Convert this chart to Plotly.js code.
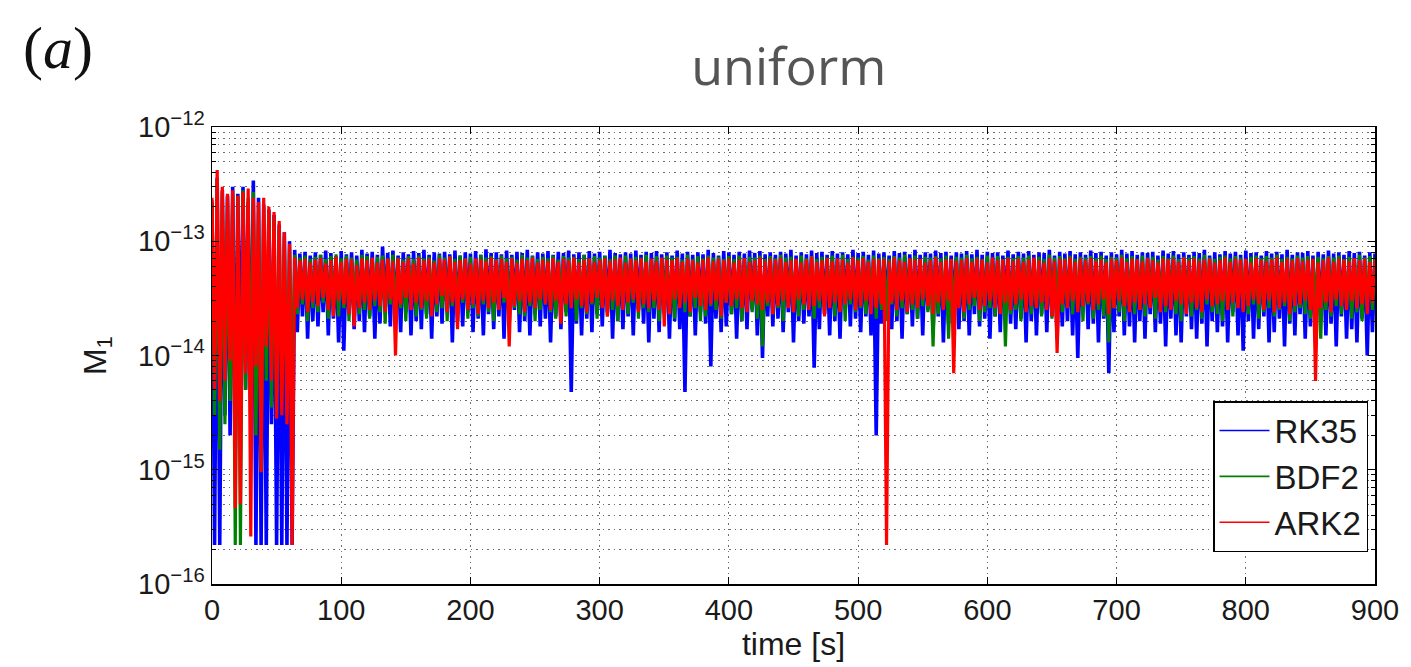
<!DOCTYPE html>
<html>
<head>
<meta charset="utf-8">
<script src="https://cdn.plot.ly/plotly-3.0.1.min.js"></script>
<style>
  html, body { margin: 0; padding: 0; background: #fff; }
  #chart { width: 1411px; height: 667px; }
</style>
</head>
<body>
<div id="chart"></div>
<script>
// Sampling interval of the stored series [s]
const timeStep = 2;
// Series values are stored in units of 1e-14
const UNIT = 1e-14;

const seriesNames = ['RK35', 'BDF2', 'ARK2'];
const seriesColors = ['#0000ff', '#008000', '#ff0000'];

// M_1 for the RK35 scheme
const rk35 = [
  22, 0.022, 36, 0.022, 28, 0.3, 25, 0.2, 30, 0.15,
  26, 0.4, 30, 0.5, 22, 0.3, 34, 0.022, 24, 0.022,
  21, 0.022, 19, 0.25, 17, 0.022, 14, 0.022, 12, 0.022,
  10, 0.022, 8.4, 1.6, 7.8, 2.2, 8.1, 1.4, 7.5, 2.0,
  8.0, 1.8, 7.6, 2.4, 8.3, 1.5, 7.9, 2.1, 7.4, 1.3,
  8.2, 1.1, 7.7, 2.3, 8.0, 1.7, 7.5, 2.0, 8.4, 1.6,
  7.8, 2.2, 8.1, 1.4, 7.6, 1.9, 9.0, 2.5, 7.9, 1.8,
  8.3, 2.1, 7.5, 1.6, 8.0, 2.4, 7.7, 1.5, 8.2, 2.0,
  7.9, 1.7, 8.4, 2.3, 7.6, 1.4, 8.0, 2.2, 7.8, 1.9,
  8.1, 2.5, 7.7, 1.3, 8.3, 2.0, 7.5, 1.8, 8.0, 2.4,
  7.8, 1.6, 8.2, 2.1, 7.6, 1.5, 8.5, 2.3, 7.9, 1.7,
  8.0, 2.2, 7.7, 1.4, 8.3, 1.9, 7.6, 2.5, 8.1, 1.6,
  7.9, 2.0, 8.4, 1.5, 7.5, 2.3, 8.0, 1.8, 7.8, 2.1,
  8.2, 1.3, 7.6, 2.2, 8.1, 1.7, 7.9, 2.4, 8.3, 0.48,
  7.7, 1.9, 8.0, 1.5, 7.6, 2.1, 8.2, 1.6, 7.8, 2.3,
  8.1, 1.8, 7.5, 2.4, 8.4, 1.4, 7.9, 2.0, 7.7, 1.7,
  8.0, 2.2, 7.8, 1.5, 8.3, 2.5, 7.6, 1.9, 8.1, 1.3,
  7.9, 2.1, 8.2, 1.6, 7.7, 2.3, 8.0, 1.4, 7.5, 2.0,
  8.3, 1.7, 7.8, 0.48, 8.1, 2.2, 7.6, 1.5, 8.0, 2.4,
  7.7, 1.9, 8.4, 0.8, 7.9, 2.1, 7.5, 1.6, 8.2, 1.8,
  8.0, 2.3, 7.6, 1.4, 8.1, 2.0, 7.8, 1.7, 8.3, 2.5,
  7.9, 1.5, 8.2, 0.95, 7.7, 2.2, 8.0, 1.8, 7.6, 2.1,
  8.1, 1.6, 7.8, 2.4, 8.4, 1.3, 7.5, 2.0, 8.0, 1.9,
  7.7, 2.2, 8.3, 0.78, 7.9, 1.7, 8.1, 2.3, 7.6, 1.5,
  8.2, 2.0, 7.8, 1.4, 8.0, 2.5, 7.7, 1.8, 8.4, 2.1,
  7.9, 1.6, 8.1, 2.2, 7.6, 1.5, 8.3, 0.2, 7.8, 1.9,
  8.0, 2.4, 7.5, 1.7, 8.2, 2.0, 7.9, 1.4, 8.1, 2.3,
  7.7, 1.8, 8.4, 2.1, 7.6, 1.5, 8.0, 2.5, 7.8, 1.6,
  8.3, 2.2, 7.9, 1.3, 8.1, 1.9, 7.5, 2.4, 8.0, 1.7,
  7.8, 2.0, 8.2, 1.5, 7.7, 2.3, 8.4, 1.8, 7.6, 2.1,
  8.1, 1.4, 7.9, 2.2, 8.0, 1.6, 7.5, 2.5, 8.3, 1.9,
  7.7, 1.7, 8.1, 2.1, 7.8, 1.3, 8.2, 2.0, 7.6, 1.5,
  8.0, 2.3, 7.9, 1.6, 8.4, 2.2, 7.5, 1.4, 8.1, 1.8,
  7.8, 2.0, 8.2, 1.5, 7.7, 0.95, 8.0, 2.4, 7.6, 1.7,
  8.3, 1.9, 7.9, 1.3, 8.1, 2.1, 7.5, 0.7, 8.0, 1.6,
  7.7, 2.2, 8.4, 1.5, 7.8, 1.8, 8.2, 1.3, 7.6, 2.0,
  8.0, 1.4, 7.9, 2.3, 8.1, 1.6, 7.5, 1.9, 8.3, 1.2,
  7.8, 2.1, 8.2, 1.5, 7.7, 1.3, 8.0, 2.2, 7.6, 1.7,
  8.1, 1.4, 7.9, 1.9, 8.4, 1.2, 7.5, 2.0, 8.0, 1.6,
  7.7, 1.8, 8.2, 1.3, 7.8, 2.4, 8.1, 1.5, 7.6, 1.1,
  8.3, 2.0, 7.9, 1.4, 8.0, 1.7, 7.5, 2.2, 8.2, 1.3,
  7.8, 1.6, 8.1, 2.1, 7.7, 1.2, 8.4, 1.9, 7.6, 1.5,
  8.0, 2.3, 7.9, 1.4, 8.2, 1.8, 7.5, 1.3, 8.1, 2.0,
  7.7, 1.5, 8.3, 1.9, 7.8, 1.2, 8.0, 2.2, 7.6, 1.4,
  8.2, 1.7, 7.9, 1.3, 8.1, 2.1, 7.5, 1.0, 8.0, 1.6,
  7.8
];

// M_1 for the BDF2 scheme
const bdf2 = [
  23, 0.3, 35, 0.15, 27, 0.25, 24, 0.4, 26, 0.022,
  25, 0.022, 28, 0.5, 24, 0.3, 27, 0.2, 22, 0.1,
  20, 0.6, 18, 0.35, 16, 0.3, 13, 0.4, 11, 0.3,
  9.0, 0.5, 7.6, 2.3, 7.2, 2.8, 7.5, 2.0, 7.0, 2.6,
  7.3, 2.4, 7.6, 2.9, 7.0, 2.1, 7.4, 2.7, 7.7, 2.2,
  7.1, 2.6, 7.5, 2.0, 7.2, 2.8, 6.9, 2.3, 7.6, 2.5,
  7.4, 2.1, 7.0, 2.7, 7.3, 2.4, 7.5, 1.9, 7.1, 2.8,
  7.6, 2.3, 7.2, 2.6, 6.9, 2.0, 7.4, 2.9, 7.0, 2.2,
  7.5, 2.5, 7.1, 2.1, 7.3, 2.8, 6.8, 2.4, 7.6, 2.6,
  7.2, 2.0, 7.4, 2.7, 7.0, 2.3, 7.5, 2.9, 7.1, 2.1,
  7.3, 2.6, 6.9, 2.2, 7.6, 2.8, 7.2, 2.4, 7.4, 2.0,
  7.0, 2.5, 7.5, 2.9, 7.1, 2.1, 7.3, 2.6, 6.9, 2.3,
  7.6, 2.2, 7.2, 2.7, 7.4, 2.0, 7.0, 2.5, 7.3, 2.8,
  7.1, 2.4, 7.5, 2.1, 6.9, 2.6, 7.4, 2.2, 7.2, 2.9,
  7.3, 2.0, 7.0, 2.6, 7.6, 2.3, 7.1, 2.8, 7.4, 2.1,
  7.2, 2.7, 7.4, 2.2, 7.0, 2.5, 7.5, 2.0, 6.9, 2.8,
  7.5, 2.3, 7.1, 2.9, 7.3, 2.1, 7.2, 2.6, 7.6, 2.4,
  7.0, 2.6, 7.4, 2.0, 7.1, 2.7, 7.5, 2.3, 7.2, 2.1,
  7.3, 2.8, 6.9, 2.4, 7.6, 2.2, 7.0, 2.6, 7.4, 2.0,
  7.1, 2.2, 7.5, 2.7, 7.2, 2.5, 7.3, 2.1, 7.0, 2.9,
  7.4, 2.3, 7.0, 2.6, 7.5, 2.0, 7.1, 2.8, 7.3, 2.4,
  7.2, 2.1, 7.5, 1.2, 7.0, 2.7, 7.4, 2.3, 7.1, 2.6,
  7.6, 2.0, 7.2, 2.8, 7.3, 2.4, 6.9, 2.2, 7.5, 2.5,
  7.1, 2.7, 7.4, 2.1, 7.0, 2.6, 7.3, 2.3, 7.2, 2.9,
  7.5, 2.2, 7.1, 2.5, 7.6, 2.0, 7.0, 2.8, 7.3, 2.4,
  7.2, 2.6, 7.4, 2.3, 6.9, 2.7, 7.5, 2.1, 7.1, 2.5,
  7.3, 2.0, 7.0, 2.8, 7.4, 2.2, 7.2, 2.6, 7.6, 2.3,
  7.1, 2.5, 7.5, 2.1, 7.0, 2.7, 7.3, 2.4, 7.2, 1.2,
  7.4, 2.3, 7.1, 2.6, 7.5, 1.4, 7.0, 2.2, 7.3, 2.8,
  7.2, 2.1, 7.6, 2.5, 7.1, 2.7, 7.3, 2.0, 7.0, 2.4,
  7.5, 2.6, 7.2, 2.2, 7.4, 2.8, 7.0, 1.2, 7.3, 2.3,
  7.1, 2.5, 7.4, 2.0, 7.2, 2.7, 7.5, 2.3, 6.9, 2.6,
  7.3, 2.2, 7.0, 2.8, 7.6, 2.1, 7.2, 2.5, 7.4, 2.4,
  7.1, 2.7, 7.5, 2.3, 7.0, 2.6, 7.3, 2.0, 7.2, 2.8,
  7.4, 2.1, 7.1, 2.5, 7.5, 2.2, 7.0, 1.3, 7.3, 2.6,
  7.2, 2.4, 7.6, 2.0, 7.1, 2.7, 7.4, 2.3, 7.0, 2.5,
  7.5, 2.2, 7.2, 2.8, 7.3, 2.1, 6.9, 2.6, 7.4, 2.4,
  7.1, 2.6, 7.5, 2.3, 7.0, 2.0, 7.3, 2.7, 7.2, 2.2,
  7.4, 2.5, 7.1, 2.1, 7.6, 2.8, 7.2, 2.4, 7.0, 2.3,
  7.3, 2.0, 7.5, 2.6, 7.1, 2.2, 7.4, 2.7, 7.2, 2.5,
  7.0, 2.3, 7.3, 2.8, 7.5, 2.1, 7.1, 2.4, 7.4, 2.6,
  7.2, 2.2, 7.6, 2.5, 7.0, 2.7, 7.3, 2.0, 7.1, 2.4,
  7.5, 2.6, 7.2, 2.3, 7.4, 2.1, 7.0, 2.8, 7.3, 1.4,
  7.1, 2.5, 7.4, 2.2, 7.2, 2.7, 7.5, 2.3, 7.0, 2.6,
  7.3, 2.1, 7.1, 2.4, 7.6, 2.0, 7.2, 2.8, 7.4, 2.5,
  7.2
];

// M_1 for the ARK2 scheme
const ark2 = [
  24, 0.5, 42, 0.4, 30, 0.6, 26, 0.9, 28, 0.046,
  25, 0.05, 27, 0.7, 29, 0.026, 24, 0.8, 22, 0.095,
  24, 1.2, 20, 0.6, 18, 0.28, 15, 0.3, 12, 0.25,
  9.5, 0.022, 7.2, 2.6, 6.8, 3.1, 7.0, 2.4, 6.5, 2.9,
  6.9, 2.7, 7.1, 3.2, 6.4, 2.5, 6.8, 2.2, 7.3, 3.0,
  6.6, 2.8, 7.0, 2.3, 6.9, 1.8, 6.2, 2.6, 7.1, 2.9,
  6.8, 2.5, 7.2, 3.0, 6.5, 2.7, 6.9, 2.4, 7.0, 3.1,
  6.7, 1.0, 7.1, 2.8, 6.6, 3.2, 7.0, 2.5, 6.4, 2.9,
  7.2, 2.6, 6.8, 3.0, 7.0, 2.2, 6.5, 2.8, 7.1, 3.3,
  6.9, 2.4, 7.3, 2.9, 6.6, 1.7, 6.8, 3.1, 7.0, 2.5,
  6.4, 2.8, 7.1, 2.3, 6.9, 3.0, 6.7, 2.6, 7.2, 2.9,
  6.8, 2.5, 7.0, 3.2, 6.6, 1.2, 7.1, 2.7, 6.5, 3.0,
  7.0, 2.4, 6.8, 2.9, 7.2, 2.6, 6.5, 3.1, 6.9, 2.8,
  6.7, 2.5, 7.1, 3.0, 6.6, 1.9, 7.0, 2.8, 6.8, 2.6,
  7.2, 3.1, 6.5, 2.7, 6.9, 2.4, 7.0, 2.9, 6.6, 3.2,
  6.8, 2.6, 7.1, 2.2, 6.7, 3.0, 6.9, 2.7, 7.2, 2.5,
  6.5, 2.9, 7.0, 3.1, 6.8, 2.4, 7.1, 2.8, 6.6, 2.6,
  7.0, 3.0, 6.7, 2.5, 7.2, 1.8, 6.9, 2.3, 6.8, 3.1,
  7.1, 2.6, 6.6, 2.9, 7.0, 2.4, 6.8, 3.2, 6.5, 2.7,
  6.9, 2.5, 7.2, 2.8, 6.7, 3.0, 7.0, 2.2, 6.8, 2.9,
  7.0, 2.7, 6.5, 3.1, 6.9, 2.6, 7.1, 2.4, 6.6, 3.0,
  6.8, 2.8, 7.2, 2.5, 6.7, 2.9, 7.0, 2.3, 6.9, 2.7,
  7.1, 3.0, 6.6, 2.6, 6.8, 2.4, 7.0, 3.1, 6.5, 2.8,
  6.9, 2.5, 7.3, 2.7, 6.6, 3.0, 6.8, 2.2, 7.1, 2.6,
  6.7, 2.9, 7.0, 2.4, 6.9, 2.8, 6.5, 3.1, 7.2, 2.5,
  6.8, 2.7, 7.1, 3.0, 6.6, 2.3, 7.0, 2.6, 6.9, 2.8,
  7.0, 0.022, 6.7, 2.9, 7.2, 2.5, 6.8, 3.0, 6.6, 2.4,
  7.1, 2.8, 6.9, 2.6, 7.0, 3.1, 6.5, 2.7, 6.8, 2.3,
  7.2, 2.9, 6.6, 2.5, 6.9, 3.0, 7.0, 0.7, 6.7, 2.6,
  6.8, 2.4, 7.1, 2.8, 6.6, 3.2, 7.0, 2.5, 6.9, 2.7,
  6.5, 3.0, 7.2, 2.6, 6.8, 2.3, 6.9, 2.9, 7.1, 2.5,
  6.7, 2.8, 7.0, 3.1, 6.6, 2.4, 6.9, 2.7, 7.2, 2.6,
  6.8, 2.9, 6.5, 2.5, 7.1, 2.2, 6.7, 1.05, 7.0, 2.8,
  6.9, 2.6, 7.2, 3.0, 6.6, 2.4, 7.0, 2.7, 6.8, 2.9,
  7.1, 2.5, 6.7, 2.8, 6.9, 3.1, 6.5, 2.3, 7.0, 2.6,
  6.8, 3.0, 7.2, 2.7, 6.6, 2.4, 7.0, 2.9, 6.9, 2.5,
  6.7, 2.8, 7.1, 2.6, 6.8, 3.2, 6.5, 2.4, 7.0, 2.7,
  6.9, 2.5, 7.0, 3.0, 6.6, 2.8, 7.2, 2.3, 6.8, 2.9,
  7.1, 2.6, 6.7, 2.4, 6.9, 3.1, 7.0, 2.7, 6.5, 2.8,
  6.8, 3.0, 7.2, 2.5, 6.6, 2.9, 7.0, 2.6, 6.9, 2.4,
  7.0, 2.7, 6.5, 3.1, 7.1, 2.8, 6.8, 2.5, 6.7, 3.0,
  6.9, 2.4, 7.2, 2.6, 6.6, 2.9, 7.0, 2.3, 6.8, 2.7,
  7.1, 2.8, 6.7, 3.0, 6.9, 2.5, 7.0, 0.6, 6.5, 2.6,
  6.8, 2.9, 7.2, 2.4, 6.6, 3.1, 7.0, 2.7, 6.9, 2.5,
  6.7, 3.0, 7.1, 2.6, 6.8, 2.8, 7.0, 2.3, 6.6, 2.9,
  6.9
];

// Axis ticks
const xTickVals = [0, 100, 200, 300, 400, 500, 600, 700, 800, 900];
const yDecades = [-16, -15, -14, -13, -12];
const yTickText = ['10<sup>\u221216</sup>', '10<sup>\u221215</sup>', '10<sup>\u221214</sup>',
                   '10<sup>\u221213</sup>', '10<sup>\u221212</sup>'];

const yTickVals = yDecades.map(e => Math.pow(10, e));
const yMinorVals = [];
for (let e = -16; e < -12; e++) {
  for (let m = 2; m <= 9; m++) yMinorVals.push(m * Math.pow(10, e));
}

const seriesData = [rk35, bdf2, ark2];
const lineWidths = [3.6, 3.2, 3.2];

// Data traces (legend entries are drawn by thin legend-only traces below)
const traces = seriesData.map((vals, k) => ({
  type: 'scatter',
  mode: 'lines',
  name: seriesNames[k],
  showlegend: false,
  x: vals.map((_, i) => i * timeStep),
  y: vals.map(v => v * UNIT),
  line: { color: seriesColors[k], width: lineWidths[k] },
  hoverinfo: 'skip'
}));

// Legend keys with the thin line style
seriesNames.forEach((name, k) => {
  traces.push({
    type: 'scatter',
    mode: 'lines',
    name: name,
    legendgroup: name,
    x: [null],
    y: [null],
    line: { color: seriesColors[k], width: 1.6 },
    hoverinfo: 'skip'
  });
});

const sansFamily = '"Liberation Sans", Arial, sans-serif';
const tickFont = { family: sansFamily, size: 29, color: '#1a1a1a' };
const titleFont = { family: sansFamily, size: 32, color: '#1a1a1a' };
const gridColor = '#6e6e6e';
const gridDash = '1.5px,4px';

const layout = {
  width: 1411,
  height: 667,
  paper_bgcolor: '#ffffff',
  plot_bgcolor: '#ffffff',
  margin: { l: 212, r: 36, t: 127, b: 83, pad: 0 },
  showlegend: true,
  title: {
    text: 'uniform',
    font: { family: '"Open Sans", Lato, sans-serif', size: 52, color: '#555555' },
    x: 0.559, xanchor: 'center', xref: 'container',
    y: 0.9, yanchor: 'middle', yref: 'container'
  },
  xaxis: {
    range: [0, 900],
    tickmode: 'array',
    tickvals: xTickVals,
    ticks: 'inside',
    ticklen: 7,
    tickwidth: 1,
    tickcolor: '#000',
    showline: true,
    linecolor: '#000',
    linewidth: 1.5,
    mirror: 'ticks',
    showgrid: true,
    gridcolor: gridColor,
    griddash: gridDash,
    gridwidth: 1,
    zeroline: false,
    tickfont: tickFont,
    title: { text: 'time [s]', font: titleFont, standoff: 0 }
  },
  yaxis: {
    type: 'log',
    range: [-16, -12],
    tickmode: 'array',
    tickvals: yTickVals,
    ticktext: yTickText,
    ticks: 'inside',
    ticklen: 7,
    tickwidth: 1,
    tickcolor: '#000',
    showline: true,
    linecolor: '#000',
    linewidth: 1.5,
    mirror: 'ticks',
    showgrid: true,
    gridcolor: gridColor,
    griddash: gridDash,
    gridwidth: 1,
    zeroline: false,
    tickfont: tickFont,
    minor: {
      tickmode: 'array',
      tickvals: yMinorVals,
      ticks: 'inside',
      ticklen: 4,
      tickcolor: '#000',
      showgrid: true,
      gridcolor: gridColor,
      griddash: gridDash,
      gridwidth: 1
    },
    title: { text: 'M<sub>1</sub>', font: titleFont, standoff: 22 }
  },
  legend: {
    x: 0.994, xanchor: 'right',
    y: 0.07, yanchor: 'bottom',
    bgcolor: '#ffffff',
    bordercolor: '#000000',
    borderwidth: 1.5,
    font: { family: sansFamily, size: 33, color: '#1a1a1a' },
    traceorder: 'grouped',
    tracegroupgap: 0,
    itemwidth: 50
  },
  annotations: [
    {
      text: '(<i>a</i>)',
      xref: 'paper', yref: 'paper',
      x: -0.1324, xanchor: 'center',
      y: 1.172, yanchor: 'middle',
      showarrow: false,
      font: { family: '"Liberation Serif", "DejaVu Serif", serif', size: 60, color: '#111' }
    }
  ]
};

Plotly.newPlot('chart', traces, layout, { displayModeBar: false, staticPlot: true });
</script>
</body>
</html>
